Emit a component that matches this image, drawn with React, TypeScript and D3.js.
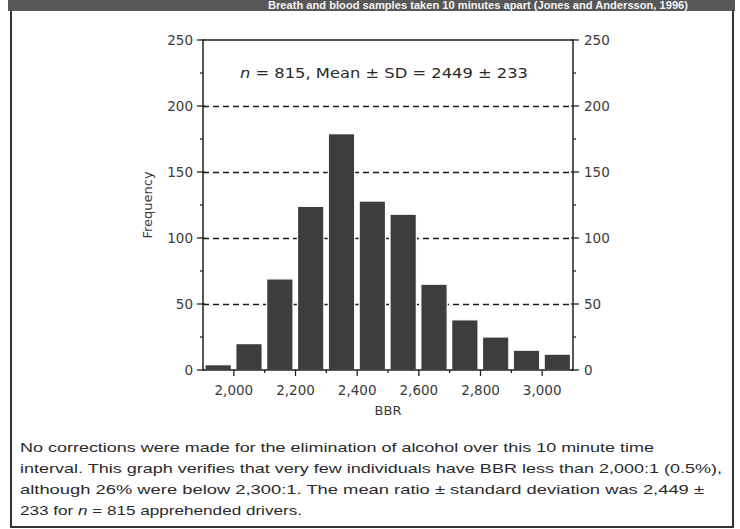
import React, { useRef, useEffect } from 'react';
import * as d3 from 'd3';

// bin start (BBR) and frequency per 100-wide bin
const binStarts = [1900, 2000, 2100, 2200, 2300, 2400, 2500, 2600, 2700, 2800, 2900, 3000];
const frequencies = [4, 20, 69, 124, 179, 128, 118, 65, 38, 25, 15, 12];
const xTickValues = [2000, 2200, 2400, 2600, 2800, 3000];
const yTickValues = [0, 50, 100, 150, 200, 250];
const gridValues = [50, 100, 150, 200];

const titleText = 'Breath and blood samples taken 10 minutes apart (Jones and Andersson, 1996)';
const captionLines = [
    'No corrections were made for the elimination of alcohol over this 10 minute time',
    'interval. This graph verifies that very few individuals have BBR less than 2,000:1 (0.5%),',
    'although 26% were below 2,300:1. The mean ratio \u00b1 standard deviation was 2,449 \u00b1',
    '233 for n = 815 apprehended drivers.',
];

const App = () => {
    const svgRef = useRef<SVGSVGElement>(null);

    useEffect(() => {
        const svg = d3.select(svgRef.current);
        svg.selectAll('*').remove();

        const font = 'Arial, "Liberation Sans", sans-serif';
        const wide = '"DejaVu Sans", Verdana, sans-serif';
        const left = 203, right = 573, top = 40, bottom = 370;

        const x = d3.scaleLinear().domain([1900, 3100]).range([left, right]);
        const y = d3.scaleLinear().domain([0, 250]).range([bottom, top]);

        // header bar and outer frame
        svg.append('rect').attr('x', 8).attr('y', 0).attr('width', 727).attr('height', 11).attr('fill', '#575757');
        svg.append('text')
            .attr('x', 478).attr('y', 9)
            .attr('text-anchor', 'middle')
            .attr('font-family', font).attr('font-weight', 'bold').attr('font-size', 11)
            .attr('fill', '#f4f4f4')
            .attr('textLength', 420).attr('lengthAdjust', 'spacingAndGlyphs')
            .text(titleText);
        svg.append('path')
            .attr('d', 'M11,11 V527 H733 V11')
            .attr('fill', 'none').attr('stroke', '#333').attr('stroke-width', 2);

        // dashed grid
        svg.append('g').selectAll('line')
            .data(gridValues)
            .join('line')
            .attr('x1', left).attr('x2', right)
            .attr('y1', d => y(d) + 0.5).attr('y2', d => y(d) + 0.5)
            .attr('stroke', '#1a1a1a').attr('stroke-width', 1.3)
            .attr('stroke-dasharray', '6,4');

        // bars
        svg.append('g').selectAll('rect')
            .data(binStarts.map((b, i) => ({ b, f: frequencies[i] })))
            .join('rect')
            .attr('x', d => x(d.b) + 2)
            .attr('width', d => x(d.b + 100) - x(d.b) - 4.5)
            .attr('y', d => y(d.f))
            .attr('height', d => y(0) - y(d.f))
            .attr('fill', '#3d3d3d')
            .attr('stroke', '#fff').attr('stroke-width', 1.2);

        // frame
        svg.append('rect')
            .attr('x', left).attr('y', top)
            .attr('width', right - left).attr('height', bottom - top)
            .attr('fill', 'none').attr('stroke', '#222').attr('stroke-width', 1.5);

        const tickStyle = (g: any) => g.attr('stroke', '#222').attr('stroke-width', 1.3);

        // y ticks both sides
        const minorY = d3.range(25, 250, 50);
        [left, right].forEach(ax => {
            const dir = ax === left ? -1 : 1;
            svg.append('g').selectAll('line')
                .data(yTickValues)
                .join('line')
                .attr('x1', ax + dir * 6).attr('x2', ax - dir * 2)
                .attr('y1', d => y(d)).attr('y2', d => y(d))
                .call(tickStyle);
            svg.append('g').selectAll('line')
                .data(minorY)
                .join('line')
                .attr('x1', ax + dir * 3).attr('x2', ax)
                .attr('y1', d => y(d)).attr('y2', d => y(d))
                .call(tickStyle);
        });

        svg.append('g').selectAll('text')
            .data(yTickValues)
            .join('text')
            .attr('x', left - 10).attr('y', d => y(d) + 5)
            .attr('text-anchor', 'end')
            .attr('font-family', wide).attr('font-size', 13.5).attr('fill', '#3a3a3a')
            .text(d => d);
        svg.append('g').selectAll('text')
            .data(yTickValues)
            .join('text')
            .attr('x', right + 11).attr('y', d => y(d) + 5)
            .attr('text-anchor', 'start')
            .attr('font-family', wide).attr('font-size', 13.5).attr('fill', '#3a3a3a')
            .text(d => d);

        // x ticks
        svg.append('g').selectAll('line')
            .data(xTickValues)
            .join('line')
            .attr('x1', d => x(d)).attr('x2', d => x(d))
            .attr('y1', bottom).attr('y2', bottom + 6)
            .call(tickStyle);
        svg.append('g').selectAll('line')
            .data(d3.range(2100, 3100, 200))
            .join('line')
            .attr('x1', d => x(d)).attr('x2', d => x(d))
            .attr('y1', bottom).attr('y2', bottom + 3)
            .call(tickStyle);
        const fmt = d3.format(',');
        svg.append('g').selectAll('text')
            .data(xTickValues)
            .join('text')
            .attr('x', d => x(d)).attr('y', bottom + 25)
            .attr('text-anchor', 'middle')
            .attr('font-family', wide).attr('font-size', 13.5).attr('fill', '#3a3a3a')
            .text(d => fmt(d));

        // axis titles
        svg.append('text')
            .attr('x', (left + right) / 2).attr('y', bottom + 45)
            .attr('text-anchor', 'middle')
            .attr('font-family', wide).attr('font-size', 13).attr('fill', '#3a3a3a')
            .text('BBR');
        svg.append('text')
            .attr('transform', `translate(152,${(top + bottom) / 2}) rotate(-90)`)
            .attr('text-anchor', 'middle')
            .attr('font-family', wide).attr('font-size', 13).attr('fill', '#3a3a3a')
            .text('Frequency');

        // annotation
        const ann = svg.append('text')
            .attr('x', 240).attr('y', 78)
            .attr('font-family', wide).attr('font-size', 14).attr('fill', '#2a2a2a')
            .attr('textLength', 288).attr('lengthAdjust', 'spacingAndGlyphs');
        ann.append('tspan').attr('font-style', 'italic').text('n');
        ann.append('tspan').text(' = 815, Mean \u00b1 SD = 2449 \u00b1 233');

        // caption
        const widths = [634, 702, 684, 282];
        captionLines.forEach((line, i) => {
            const t = svg.append('text')
                .attr('x', 20).attr('y', 452 + i * 21)
                .attr('font-family', font).attr('font-size', 13.5).attr('fill', '#2a2a2a')
                .attr('textLength', widths[i]).attr('lengthAdjust', 'spacingAndGlyphs');
            if (i === 3) {
                t.append('tspan').text('233 for ');
                t.append('tspan').attr('font-style', 'italic').text('n');
                t.append('tspan').text(' = 815 apprehended drivers.');
            } else {
                t.text(line);
            }
        });
    }, []);

    return (
        <svg ref={svgRef} width={740} height={529}
            style={{ position: 'absolute', left: 0, top: 0, background: '#fff' }} />
    );
};

export default App;
